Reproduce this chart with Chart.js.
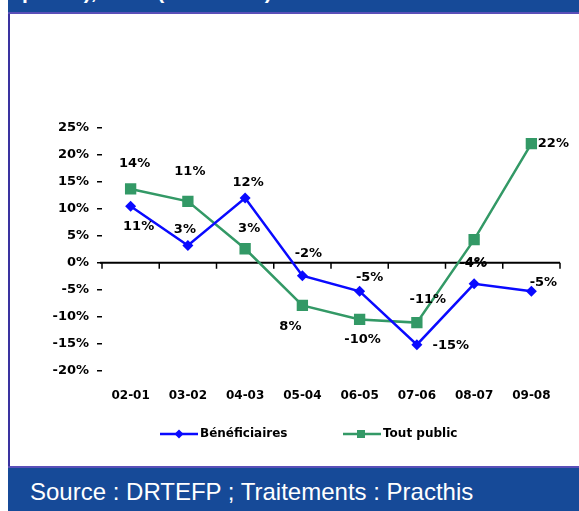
<!DOCTYPE html>
<html>
<head>
<meta charset="utf-8">
<script src="https://cdn.jsdelivr.net/npm/chart.js@4.4.0/dist/chart.umd.min.js"></script>
<style>
  body { margin: 0; width: 579px; height: 511px; overflow: hidden; background: #fff; position: relative; }
  #leftLine { position: absolute; left: 8px; top: 0; width: 2px; height: 511px; background: #3a32a0; }
  #header { position: absolute; left: 8px; top: 0; width: 571px; height: 12px; background: #164a98;
            border-bottom: 2px solid #5a4fb8; overflow: hidden; }
  #header span { position: absolute; left: 14px; top: -18px; font: bold 21px "Liberation Sans", Arial, sans-serif;
                 line-height: 20px; color: #fff; white-space: nowrap; }
  #footer { position: absolute; left: 8px; top: 466px; width: 571px; height: 45px; background: #164a98;
            border-top: 2px solid #5a4fb8; }
  #footer span { position: absolute; left: 22px; top: 10px; font: 24px "Liberation Sans", Arial, sans-serif;
                 color: #fff; white-space: nowrap; }
  #wrap { position: absolute; left: 0; top: 0; width: 579px; height: 511px; }
</style>
</head>
<body>
<div id="leftLine"></div>
<div id="header"><span>public), en % (2001-2008)</span></div>
<div id="footer"><span>Source : DRTEFP ; Traitements : Practhis</span></div>
<div id="wrap"><canvas id="chart"></canvas></div>
<script>
//categories (years)
var years = ["02-01", "03-02", "04-03", "05-04", "06-05", "07-06", "08-07", "09-08"];
//series values in %
var beneficiaires = [10.5, 3.2, 12.0, -2.4, -5.3, -15.2, -3.9, -5.3];
var toutPublic = [13.7, 11.4, 2.6, -7.9, -10.5, -11.1, 4.3, 22.1];
//value labels as printed on the chart
var beneficiairesLabels = ["11%", "3%", "12%", "-2%", "-5%", "-15%", "-4%", "-5%"];
var toutPublicLabels = ["14%", "11%", "3%", "8%", "-10%", "-11%", "4%", "22%"];
//y ticks
var yMin = -20;
var yMax = 25;
var yStep = 5;

var blue = "#0a0aff";
var green = "#339966";
var fontFam = "'DejaVu Sans', sans-serif";

//where each value label sits relative to its point
var labelOffsets = [
    [[8, 20], [-3, -16], [3, -15], [6, -22], [10, -14], [34, 1], [-1, -20], [12, -9]],
    [[4, -25], [2, -30], [4, -20], [-12, 21], [3, 20], [11, -23], [2, 23], [22, 0]]
];

var valueLabels = {
    id: "valueLabels",
    afterDatasetsDraw: function(chart){
        var ctx = chart.ctx;
        ctx.save();
        ctx.fillStyle = "#000";
        ctx.font = "bold 13px " + fontFam;
        ctx.textAlign = "center";
        ctx.textBaseline = "middle";
        var texts = [beneficiairesLabels, toutPublicLabels];
        for (let d = 0; d < chart.data.datasets.length; d++){
            var meta = chart.getDatasetMeta(d);
            for (let i = 0; i < meta.data.length; i++){
                var pt = meta.data[i];
                var off = labelOffsets[d][i];
                ctx.fillText(texts[d][i], pt.x + off[0], pt.y + off[1]);
            }
        }
        ctx.restore();
    }
};

//x axis line drawn at 0% with tick marks between categories
var zeroAxis = {
    id: "zeroAxis",
    beforeDatasetsDraw: function(chart){
        var ctx = chart.ctx;
        var xs = chart.scales.x;
        var y0 = chart.scales.y.getPixelForValue(0);
        var step = xs.getPixelForValue(1) - xs.getPixelForValue(0);
        ctx.save();
        ctx.strokeStyle = "#000";
        ctx.lineWidth = 2;
        ctx.beginPath();
        ctx.moveTo(chart.chartArea.left - 2, y0);
        ctx.lineTo(chart.chartArea.right, y0);
        ctx.stroke();
        ctx.lineWidth = 1.5;
        for (let i = 0; i <= years.length; i++){
            var tx = xs.getPixelForValue(0) - step / 2 + i * step;
            ctx.beginPath();
            ctx.moveTo(tx, y0);
            ctx.lineTo(tx, y0 + 6);
            ctx.stroke();
        }
        ctx.restore();
    }
};

var bottomLegend = {
    id: "bottomLegend",
    afterDraw: function(chart){
        var ctx = chart.ctx;
        var y = 434;
        ctx.save();
        ctx.font = "bold 12px " + fontFam;
        ctx.textBaseline = "middle";
        ctx.fillStyle = "#000";
        //Bénéficiaires
        ctx.strokeStyle = blue;
        ctx.lineWidth = 2.5;
        ctx.beginPath(); ctx.moveTo(160, y); ctx.lineTo(198, y); ctx.stroke();
        ctx.fillStyle = blue;
        ctx.beginPath();
        ctx.moveTo(179, y - 4.5); ctx.lineTo(183.5, y); ctx.lineTo(179, y + 4.5); ctx.lineTo(174.5, y);
        ctx.closePath(); ctx.fill();
        ctx.fillStyle = "#000";
        ctx.fillText(chart.data.datasets[0].label, 200, y);
        //Tout public
        ctx.strokeStyle = green;
        ctx.beginPath(); ctx.moveTo(343, y); ctx.lineTo(381, y); ctx.stroke();
        ctx.fillStyle = green;
        ctx.fillRect(357, y - 4, 8, 8);
        ctx.fillStyle = "#000";
        ctx.fillText(chart.data.datasets[1].label, 383, y);
        ctx.restore();
    }
};

new Chart("chart", {
    type: "line",
    data: {
        labels: years,
        datasets: [{
            label: "Bénéficiaires",
            data: beneficiaires,
            borderColor: blue,
            backgroundColor: blue,
            borderWidth: 2.5,
            pointStyle: "rectRot",
            pointRadius: 5.5,
            pointBorderWidth: 0,
            tension: 0
        }, {
            label: "Tout public",
            data: toutPublic,
            borderColor: green,
            backgroundColor: green,
            borderWidth: 2.5,
            pointStyle: "rect",
            pointRadius: 8,
            pointBorderWidth: 0,
            tension: 0
        }]
    },
    options: {
        responsive: true,
        maintainAspectRatio: false,
        animation: false,
        layout: {padding: {left: 10, right: 19, top: 128, bottom: 90}},
        plugins: {
            legend: {display: false},
            tooltip: {enabled: false}
        },
        scales: {
            x: {
                offset: true,
                grid: {display: false, drawTicks: false},
                border: {display: false},
                ticks: {color: "#000", font: {family: fontFam, size: 12, weight: "bold"}, padding: 18, maxRotation: 0, autoSkip: false}
            },
            y: {
                min: yMin,
                max: yMax,
                afterFit: function(s){ s.width = 92; },
                ticks: {
                    stepSize: yStep,
                    color: "#000",
                    font: {family: fontFam, size: 13, weight: "bold"},
                    padding: 8,
                    callback: function(v){ return v + "%"; }
                },
                grid: {drawOnChartArea: false, drawTicks: true, tickLength: 5, color: "#000", lineWidth: 1.5},
                border: {display: false}
            }
        }
    },
    plugins: [zeroAxis, valueLabels, bottomLegend]
});
</script>
</body>
</html>
